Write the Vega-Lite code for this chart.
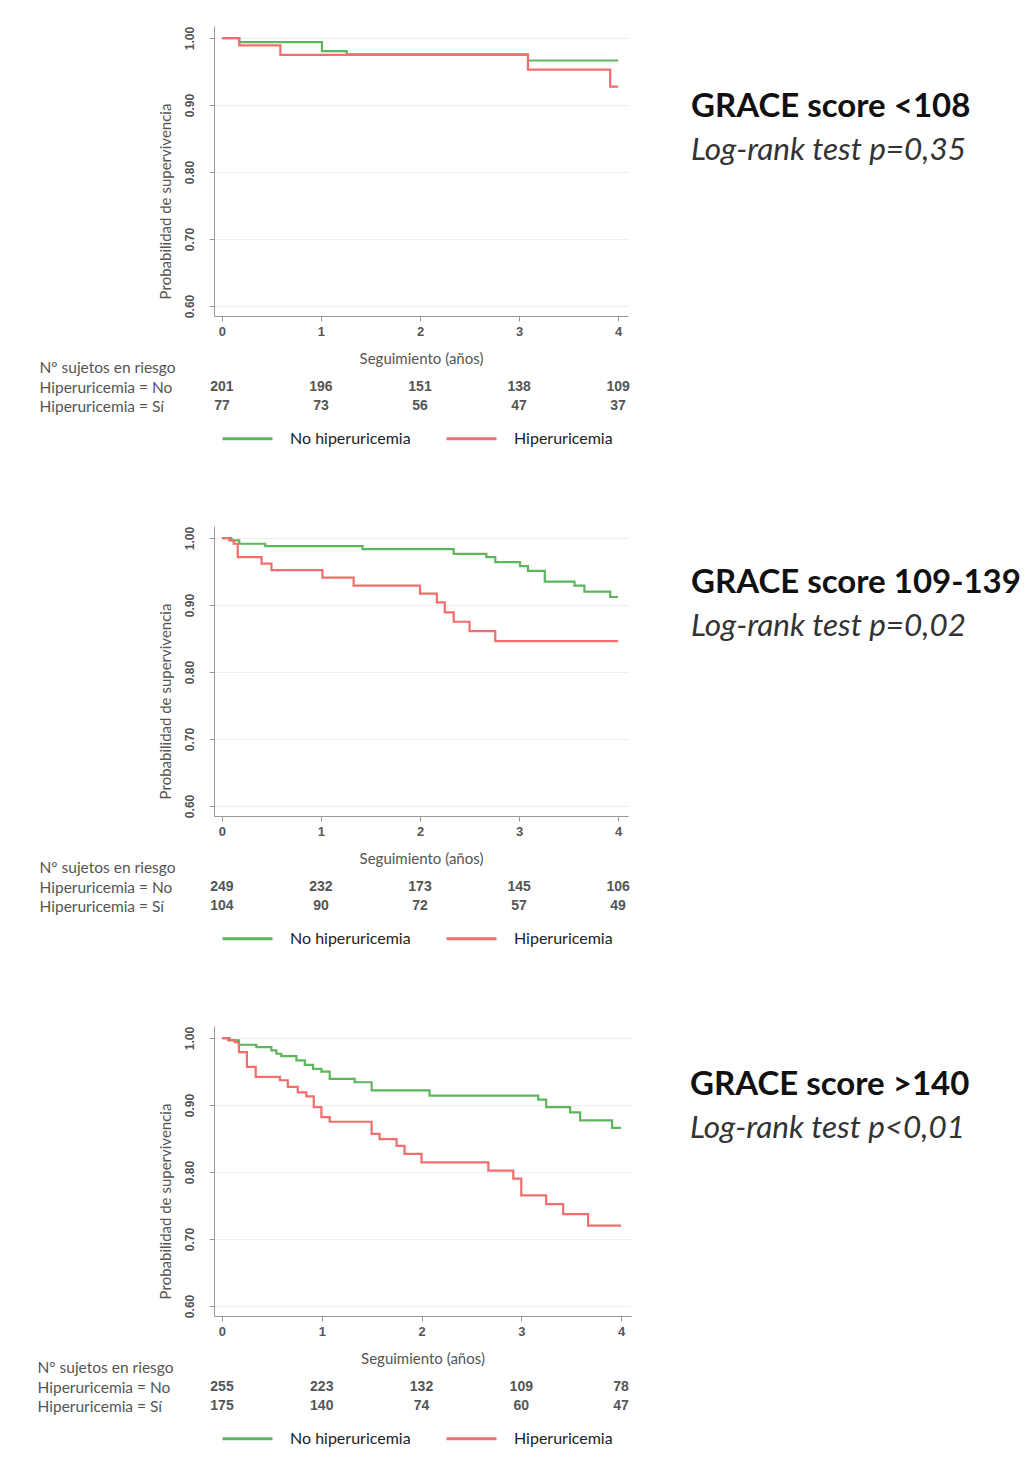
{
  "$schema": "https://vega.github.io/schema/vega-lite/v6.json",
  "background": "white",
  "padding": {"left": 37, "top": 26, "right": 0, "bottom": 0},
  "config": {
    "view": {"stroke": null},
    "font": "Lato",
    "axis": {"domainColor": "#999", "tickColor": "#999", "gridColor": "#eeeeee"},
    "legend": {"orient": "bottom", "direction": "horizontal", "title": null, "symbolType": "stroke", "symbolSize": 2500, "symbolStrokeWidth": 3, "symbolOpacity": 1, "labelFont": "Lato", "labelFontSize": 16, "labelColor": "#222", "labelOffset": 16, "columnPadding": 29, "offset": -11, "padding": 7}
  },
  "datasets": {
    "km": [
      {"p": 1, "g": "No hiperuricemia", "t": 0, "s": 1},
      {"p": 1, "g": "No hiperuricemia", "t": 0.175, "s": 0.994},
      {"p": 1, "g": "No hiperuricemia", "t": 1.01, "s": 0.9805},
      {"p": 1, "g": "No hiperuricemia", "t": 1.26, "s": 0.9755},
      {"p": 1, "g": "No hiperuricemia", "t": 3.09, "s": 0.9665},
      {"p": 1, "g": "No hiperuricemia", "t": 4, "s": 0.9665},
      {"p": 1, "g": "Hiperuricemia", "t": 0, "s": 1},
      {"p": 1, "g": "Hiperuricemia", "t": 0.175, "s": 0.989},
      {"p": 1, "g": "Hiperuricemia", "t": 0.59, "s": 0.975},
      {"p": 1, "g": "Hiperuricemia", "t": 3.09, "s": 0.953},
      {"p": 1, "g": "Hiperuricemia", "t": 3.92, "s": 0.9275},
      {"p": 1, "g": "Hiperuricemia", "t": 4, "s": 0.9275},
      {"p": 2, "g": "No hiperuricemia", "t": 0, "s": 1},
      {"p": 2, "g": "No hiperuricemia", "t": 0.094, "s": 0.9965},
      {"p": 2, "g": "No hiperuricemia", "t": 0.175, "s": 0.9915},
      {"p": 2, "g": "No hiperuricemia", "t": 0.437, "s": 0.988},
      {"p": 2, "g": "No hiperuricemia", "t": 1.42, "s": 0.9835},
      {"p": 2, "g": "No hiperuricemia", "t": 2.34, "s": 0.9765},
      {"p": 2, "g": "No hiperuricemia", "t": 2.67, "s": 0.9715},
      {"p": 2, "g": "No hiperuricemia", "t": 2.76, "s": 0.964},
      {"p": 2, "g": "No hiperuricemia", "t": 3.01, "s": 0.958},
      {"p": 2, "g": "No hiperuricemia", "t": 3.09, "s": 0.951},
      {"p": 2, "g": "No hiperuricemia", "t": 3.26, "s": 0.935},
      {"p": 2, "g": "No hiperuricemia", "t": 3.56, "s": 0.929},
      {"p": 2, "g": "No hiperuricemia", "t": 3.66, "s": 0.92},
      {"p": 2, "g": "No hiperuricemia", "t": 3.92, "s": 0.912},
      {"p": 2, "g": "No hiperuricemia", "t": 4, "s": 0.912},
      {"p": 2, "g": "Hiperuricemia", "t": 0, "s": 1},
      {"p": 2, "g": "Hiperuricemia", "t": 0.074, "s": 0.9965},
      {"p": 2, "g": "Hiperuricemia", "t": 0.118, "s": 0.9915},
      {"p": 2, "g": "Hiperuricemia", "t": 0.16, "s": 0.9716},
      {"p": 2, "g": "Hiperuricemia", "t": 0.4, "s": 0.9617},
      {"p": 2, "g": "Hiperuricemia", "t": 0.5, "s": 0.952},
      {"p": 2, "g": "Hiperuricemia", "t": 1.015, "s": 0.941},
      {"p": 2, "g": "Hiperuricemia", "t": 1.33, "s": 0.929},
      {"p": 2, "g": "Hiperuricemia", "t": 2.0, "s": 0.917},
      {"p": 2, "g": "Hiperuricemia", "t": 2.17, "s": 0.904},
      {"p": 2, "g": "Hiperuricemia", "t": 2.25, "s": 0.889},
      {"p": 2, "g": "Hiperuricemia", "t": 2.34, "s": 0.875},
      {"p": 2, "g": "Hiperuricemia", "t": 2.5, "s": 0.861},
      {"p": 2, "g": "Hiperuricemia", "t": 2.76, "s": 0.846},
      {"p": 2, "g": "Hiperuricemia", "t": 4, "s": 0.846},
      {"p": 3, "g": "No hiperuricemia", "t": 0, "s": 1},
      {"p": 3, "g": "No hiperuricemia", "t": 0.077, "s": 0.9965},
      {"p": 3, "g": "No hiperuricemia", "t": 0.17, "s": 0.99},
      {"p": 3, "g": "No hiperuricemia", "t": 0.344, "s": 0.9865},
      {"p": 3, "g": "No hiperuricemia", "t": 0.495, "s": 0.9815},
      {"p": 3, "g": "No hiperuricemia", "t": 0.545, "s": 0.9766},
      {"p": 3, "g": "No hiperuricemia", "t": 0.595, "s": 0.973},
      {"p": 3, "g": "No hiperuricemia", "t": 0.746, "s": 0.9666},
      {"p": 3, "g": "No hiperuricemia", "t": 0.83, "s": 0.96},
      {"p": 3, "g": "No hiperuricemia", "t": 0.913, "s": 0.954},
      {"p": 3, "g": "No hiperuricemia", "t": 0.997, "s": 0.95},
      {"p": 3, "g": "No hiperuricemia", "t": 1.08, "s": 0.939},
      {"p": 3, "g": "No hiperuricemia", "t": 1.33, "s": 0.934},
      {"p": 3, "g": "No hiperuricemia", "t": 1.5, "s": 0.922},
      {"p": 3, "g": "No hiperuricemia", "t": 2.08, "s": 0.914},
      {"p": 3, "g": "No hiperuricemia", "t": 3.17, "s": 0.908},
      {"p": 3, "g": "No hiperuricemia", "t": 3.25, "s": 0.897},
      {"p": 3, "g": "No hiperuricemia", "t": 3.49, "s": 0.889},
      {"p": 3, "g": "No hiperuricemia", "t": 3.59, "s": 0.877},
      {"p": 3, "g": "No hiperuricemia", "t": 3.91, "s": 0.866},
      {"p": 3, "g": "No hiperuricemia", "t": 4, "s": 0.866},
      {"p": 3, "g": "Hiperuricemia", "t": 0, "s": 1},
      {"p": 3, "g": "Hiperuricemia", "t": 0.06, "s": 0.997},
      {"p": 3, "g": "Hiperuricemia", "t": 0.127, "s": 0.994},
      {"p": 3, "g": "Hiperuricemia", "t": 0.17, "s": 0.979},
      {"p": 3, "g": "Hiperuricemia", "t": 0.25, "s": 0.957},
      {"p": 3, "g": "Hiperuricemia", "t": 0.338, "s": 0.942},
      {"p": 3, "g": "Hiperuricemia", "t": 0.58, "s": 0.937},
      {"p": 3, "g": "Hiperuricemia", "t": 0.66, "s": 0.927},
      {"p": 3, "g": "Hiperuricemia", "t": 0.76, "s": 0.919},
      {"p": 3, "g": "Hiperuricemia", "t": 0.846, "s": 0.913},
      {"p": 3, "g": "Hiperuricemia", "t": 0.92, "s": 0.897},
      {"p": 3, "g": "Hiperuricemia", "t": 0.997, "s": 0.882},
      {"p": 3, "g": "Hiperuricemia", "t": 1.08, "s": 0.875},
      {"p": 3, "g": "Hiperuricemia", "t": 1.5, "s": 0.857},
      {"p": 3, "g": "Hiperuricemia", "t": 1.58, "s": 0.849},
      {"p": 3, "g": "Hiperuricemia", "t": 1.75, "s": 0.839},
      {"p": 3, "g": "Hiperuricemia", "t": 1.83, "s": 0.827},
      {"p": 3, "g": "Hiperuricemia", "t": 2.0, "s": 0.8145},
      {"p": 3, "g": "Hiperuricemia", "t": 2.67, "s": 0.802},
      {"p": 3, "g": "Hiperuricemia", "t": 2.92, "s": 0.79},
      {"p": 3, "g": "Hiperuricemia", "t": 3.0, "s": 0.765},
      {"p": 3, "g": "Hiperuricemia", "t": 3.25, "s": 0.752},
      {"p": 3, "g": "Hiperuricemia", "t": 3.42, "s": 0.737},
      {"p": 3, "g": "Hiperuricemia", "t": 3.67, "s": 0.72},
      {"p": 3, "g": "Hiperuricemia", "t": 4, "s": 0.72}
    ],
    "risk": [
      {"p": 1, "t": 0, "fila": "Hiperuricemia = No", "g": "No hiperuricemia", "n": 201},
      {"p": 1, "t": 1, "fila": "Hiperuricemia = No", "g": "No hiperuricemia", "n": 196},
      {"p": 1, "t": 2, "fila": "Hiperuricemia = No", "g": "No hiperuricemia", "n": 151},
      {"p": 1, "t": 3, "fila": "Hiperuricemia = No", "g": "No hiperuricemia", "n": 138},
      {"p": 1, "t": 4, "fila": "Hiperuricemia = No", "g": "No hiperuricemia", "n": 109},
      {"p": 1, "t": 0, "fila": "Hiperuricemia = Sí", "g": "Hiperuricemia", "n": 77},
      {"p": 1, "t": 1, "fila": "Hiperuricemia = Sí", "g": "Hiperuricemia", "n": 73},
      {"p": 1, "t": 2, "fila": "Hiperuricemia = Sí", "g": "Hiperuricemia", "n": 56},
      {"p": 1, "t": 3, "fila": "Hiperuricemia = Sí", "g": "Hiperuricemia", "n": 47},
      {"p": 1, "t": 4, "fila": "Hiperuricemia = Sí", "g": "Hiperuricemia", "n": 37},
      {"p": 2, "t": 0, "fila": "Hiperuricemia = No", "g": "No hiperuricemia", "n": 249},
      {"p": 2, "t": 1, "fila": "Hiperuricemia = No", "g": "No hiperuricemia", "n": 232},
      {"p": 2, "t": 2, "fila": "Hiperuricemia = No", "g": "No hiperuricemia", "n": 173},
      {"p": 2, "t": 3, "fila": "Hiperuricemia = No", "g": "No hiperuricemia", "n": 145},
      {"p": 2, "t": 4, "fila": "Hiperuricemia = No", "g": "No hiperuricemia", "n": 106},
      {"p": 2, "t": 0, "fila": "Hiperuricemia = Sí", "g": "Hiperuricemia", "n": 104},
      {"p": 2, "t": 1, "fila": "Hiperuricemia = Sí", "g": "Hiperuricemia", "n": 90},
      {"p": 2, "t": 2, "fila": "Hiperuricemia = Sí", "g": "Hiperuricemia", "n": 72},
      {"p": 2, "t": 3, "fila": "Hiperuricemia = Sí", "g": "Hiperuricemia", "n": 57},
      {"p": 2, "t": 4, "fila": "Hiperuricemia = Sí", "g": "Hiperuricemia", "n": 49},
      {"p": 3, "t": 0, "fila": "Hiperuricemia = No", "g": "No hiperuricemia", "n": 255},
      {"p": 3, "t": 1, "fila": "Hiperuricemia = No", "g": "No hiperuricemia", "n": 223},
      {"p": 3, "t": 2, "fila": "Hiperuricemia = No", "g": "No hiperuricemia", "n": 132},
      {"p": 3, "t": 3, "fila": "Hiperuricemia = No", "g": "No hiperuricemia", "n": 109},
      {"p": 3, "t": 4, "fila": "Hiperuricemia = No", "g": "No hiperuricemia", "n": 78},
      {"p": 3, "t": 0, "fila": "Hiperuricemia = Sí", "g": "Hiperuricemia", "n": 175},
      {"p": 3, "t": 1, "fila": "Hiperuricemia = Sí", "g": "Hiperuricemia", "n": 140},
      {"p": 3, "t": 2, "fila": "Hiperuricemia = Sí", "g": "Hiperuricemia", "n": 74},
      {"p": 3, "t": 3, "fila": "Hiperuricemia = Sí", "g": "Hiperuricemia", "n": 60},
      {"p": 3, "t": 4, "fila": "Hiperuricemia = Sí", "g": "Hiperuricemia", "n": 47}
    ]
  },
  "spacing": 72,
  "resolve": {"scale": {"color": "independent"}, "legend": {"color": "independent"}},
  "vconcat": [
    {
      "spacing": 61,
      "resolve": {"scale": {"color": "independent"}, "legend": {"color": "independent"}},
      "hconcat": [
        {
          "spacing": 13,
          "resolve": {"scale": {"color": "independent"}, "legend": {"color": "independent"}},
          "vconcat": [
            {
              "width": 414, "height": 290,
              "data": {"name": "km"},
              "transform": [{"filter": "datum.p == 1"}],
              "encoding": {
                "x": {"field": "t", "type": "quantitative", "scale": {"domain": [-0.08, 4.1], "nice": false, "zero": false},
                  "axis": {"values": [0, 1, 2, 3, 4], "format": "d", "title": null, "grid": false, "tickSize": 5, "labelFont": "Liberation Sans", "labelFontSize": 13, "labelFontWeight": "bold", "labelColor": "#555", "labelPadding": 4, "labelFlush": false}},
                "y": {"field": "s", "type": "quantitative", "scale": {"domain": [0.585, 1.018], "nice": false, "zero": false},
                  "axis": {"values": [0.6, 0.7, 0.8, 0.9, 1.0], "format": ".2f", "labelAngle": 270, "grid": true, "tickSize": 5, "labelFont": "Liberation Sans", "labelFontSize": 12, "labelFontWeight": "bold", "labelColor": "#555", "labelPadding": 13, "title": "Probabilidad de supervivencia", "titleFont": "Lato", "titleFontSize": 15, "titleFontWeight": "normal", "titleColor": "#555", "titlePadding": 10, "titleY": 175}},
                "color": {"field": "g", "type": "nominal", "scale": {"domain": ["No hiperuricemia", "Hiperuricemia"], "range": ["#5db55d", "#f26d6d"]}, "legend": null}
              },
              "layer": [
                {"transform": [{"filter": "datum.g == 'No hiperuricemia'"}], "mark": {"type": "line", "interpolate": "step-after", "strokeWidth": 2.2}},
                {"transform": [{"filter": "datum.g == 'Hiperuricemia'"}], "mark": {"type": "line", "interpolate": "step-after", "strokeWidth": 2.2}}
              ]
            },
            {
              "width": 414, "height": 58,
              "data": {"name": "risk"},
              "transform": [{"filter": "datum.p == 1"}],
              "encoding": {
                "x": {"field": "t", "type": "quantitative", "scale": {"domain": [-0.08, 4.1], "nice": false, "zero": false},
                  "axis": {"orient": "top", "title": "Seguimiento (años)", "labels": false, "ticks": false, "domain": false, "grid": false, "titleFont": "Lato", "titleFontSize": 15, "titleFontWeight": "normal", "titleColor": "#555", "titlePadding": -8}},
                "y": {"field": "fila", "type": "nominal", "scale": {"domain": ["Nº sujetos en riesgo", "Hiperuricemia = No", "Hiperuricemia = Sí"]},
                  "axis": {"title": null, "ticks": false, "tickSize": 0, "domain": false, "labelAlign": "left", "labelPadding": 175, "labelFont": "Lato", "labelFontSize": 15.5, "labelColor": "#555"}}
              },
              "layer": [
                {
                  "mark": {"type": "text", "font": "Liberation Sans", "fontSize": 14, "fontWeight": "bold", "fill": "#555"},
                  "encoding": {"text": {"field": "n", "type": "quantitative"}}
                },
                {
                  "mark": {"type": "point", "opacity": 0},
                  "encoding": {
                    "color": {"field": "g", "type": "nominal", "scale": {"domain": ["No hiperuricemia", "Hiperuricemia"], "range": ["#5db55d", "#f26d6d"]}, "legend": {}}
                  }
                }
              ]
            }
          ]
        },
        {
          "width": 330, "height": 60,
          "data": {"values": [{}]},
          "mark": {"type": "text"},
          "encoding": {"text": {"value": ""}},
          "title": {"text": "GRACE score <108", "subtitle": "Log-rank test p=0,35", "orient": "bottom", "anchor": "start", "frame": "group", "offset": 5, "font": "Lato", "fontSize": 33, "fontWeight": "bold", "color": "#111", "subtitleFont": "Lato", "subtitleFontSize": 31.5, "subtitleFontStyle": "italic", "subtitleColor": "#333", "subtitlePadding": 11}
        }
      ]
    },
    {
      "spacing": 61,
      "resolve": {"scale": {"color": "independent"}, "legend": {"color": "independent"}},
      "hconcat": [
        {
          "spacing": 13,
          "resolve": {"scale": {"color": "independent"}, "legend": {"color": "independent"}},
          "vconcat": [
            {
              "width": 414, "height": 290,
              "data": {"name": "km"},
              "transform": [{"filter": "datum.p == 2"}],
              "encoding": {
                "x": {"field": "t", "type": "quantitative", "scale": {"domain": [-0.08, 4.1], "nice": false, "zero": false},
                  "axis": {"values": [0, 1, 2, 3, 4], "format": "d", "title": null, "grid": false, "tickSize": 5, "labelFont": "Liberation Sans", "labelFontSize": 13, "labelFontWeight": "bold", "labelColor": "#555", "labelPadding": 4, "labelFlush": false}},
                "y": {"field": "s", "type": "quantitative", "scale": {"domain": [0.585, 1.018], "nice": false, "zero": false},
                  "axis": {"values": [0.6, 0.7, 0.8, 0.9, 1.0], "format": ".2f", "labelAngle": 270, "grid": true, "tickSize": 5, "labelFont": "Liberation Sans", "labelFontSize": 12, "labelFontWeight": "bold", "labelColor": "#555", "labelPadding": 13, "title": "Probabilidad de supervivencia", "titleFont": "Lato", "titleFontSize": 15, "titleFontWeight": "normal", "titleColor": "#555", "titlePadding": 10, "titleY": 175}},
                "color": {"field": "g", "type": "nominal", "scale": {"domain": ["No hiperuricemia", "Hiperuricemia"], "range": ["#5db55d", "#f26d6d"]}, "legend": null}
              },
              "layer": [
                {"transform": [{"filter": "datum.g == 'No hiperuricemia'"}], "mark": {"type": "line", "interpolate": "step-after", "strokeWidth": 2.2}},
                {"transform": [{"filter": "datum.g == 'Hiperuricemia'"}], "mark": {"type": "line", "interpolate": "step-after", "strokeWidth": 2.2}}
              ]
            },
            {
              "width": 414, "height": 58,
              "data": {"name": "risk"},
              "transform": [{"filter": "datum.p == 2"}],
              "encoding": {
                "x": {"field": "t", "type": "quantitative", "scale": {"domain": [-0.08, 4.1], "nice": false, "zero": false},
                  "axis": {"orient": "top", "title": "Seguimiento (años)", "labels": false, "ticks": false, "domain": false, "grid": false, "titleFont": "Lato", "titleFontSize": 15, "titleFontWeight": "normal", "titleColor": "#555", "titlePadding": -8}},
                "y": {"field": "fila", "type": "nominal", "scale": {"domain": ["Nº sujetos en riesgo", "Hiperuricemia = No", "Hiperuricemia = Sí"]},
                  "axis": {"title": null, "ticks": false, "tickSize": 0, "domain": false, "labelAlign": "left", "labelPadding": 175, "labelFont": "Lato", "labelFontSize": 15.5, "labelColor": "#555"}}
              },
              "layer": [
                {
                  "mark": {"type": "text", "font": "Liberation Sans", "fontSize": 14, "fontWeight": "bold", "fill": "#555"},
                  "encoding": {"text": {"field": "n", "type": "quantitative"}}
                },
                {
                  "mark": {"type": "point", "opacity": 0},
                  "encoding": {
                    "color": {"field": "g", "type": "nominal", "scale": {"domain": ["No hiperuricemia", "Hiperuricemia"], "range": ["#5db55d", "#f26d6d"]}, "legend": {}}
                  }
                }
              ]
            }
          ]
        },
        {
          "width": 330, "height": 36,
          "data": {"values": [{}]},
          "mark": {"type": "text"},
          "encoding": {"text": {"value": ""}},
          "title": {"text": "GRACE score 109-139", "subtitle": "Log-rank test p=0,02", "orient": "bottom", "anchor": "start", "frame": "group", "offset": 5, "font": "Lato", "fontSize": 33, "fontWeight": "bold", "color": "#111", "subtitleFont": "Lato", "subtitleFontSize": 31.5, "subtitleFontStyle": "italic", "subtitleColor": "#333", "subtitlePadding": 11}
        }
      ]
    },
    {
      "spacing": 59,
      "resolve": {"scale": {"color": "independent"}, "legend": {"color": "independent"}},
      "hconcat": [
        {
          "spacing": 13,
          "resolve": {"scale": {"color": "independent"}, "legend": {"color": "independent"}},
          "vconcat": [
            {
              "width": 417, "height": 290,
              "data": {"name": "km"},
              "transform": [{"filter": "datum.p == 3"}],
              "encoding": {
                "x": {"field": "t", "type": "quantitative", "scale": {"domain": [-0.08, 4.1], "nice": false, "zero": false},
                  "axis": {"values": [0, 1, 2, 3, 4], "format": "d", "title": null, "grid": false, "tickSize": 5, "labelFont": "Liberation Sans", "labelFontSize": 13, "labelFontWeight": "bold", "labelColor": "#555", "labelPadding": 4, "labelFlush": false}},
                "y": {"field": "s", "type": "quantitative", "scale": {"domain": [0.585, 1.018], "nice": false, "zero": false},
                  "axis": {"values": [0.6, 0.7, 0.8, 0.9, 1.0], "format": ".2f", "labelAngle": 270, "grid": true, "tickSize": 5, "labelFont": "Liberation Sans", "labelFontSize": 12, "labelFontWeight": "bold", "labelColor": "#555", "labelPadding": 13, "title": "Probabilidad de supervivencia", "titleFont": "Lato", "titleFontSize": 15, "titleFontWeight": "normal", "titleColor": "#555", "titlePadding": 10, "titleY": 175}},
                "color": {"field": "g", "type": "nominal", "scale": {"domain": ["No hiperuricemia", "Hiperuricemia"], "range": ["#5db55d", "#f26d6d"]}, "legend": null}
              },
              "layer": [
                {"transform": [{"filter": "datum.g == 'No hiperuricemia'"}], "mark": {"type": "line", "interpolate": "step-after", "strokeWidth": 2.2}},
                {"transform": [{"filter": "datum.g == 'Hiperuricemia'"}], "mark": {"type": "line", "interpolate": "step-after", "strokeWidth": 2.2}}
              ]
            },
            {
              "width": 417, "height": 58,
              "data": {"name": "risk"},
              "transform": [{"filter": "datum.p == 3"}],
              "encoding": {
                "x": {"field": "t", "type": "quantitative", "scale": {"domain": [-0.08, 4.1], "nice": false, "zero": false},
                  "axis": {"orient": "top", "title": "Seguimiento (años)", "labels": false, "ticks": false, "domain": false, "grid": false, "titleFont": "Lato", "titleFontSize": 15, "titleFontWeight": "normal", "titleColor": "#555", "titlePadding": -8}},
                "y": {"field": "fila", "type": "nominal", "scale": {"domain": ["Nº sujetos en riesgo", "Hiperuricemia = No", "Hiperuricemia = Sí"]},
                  "axis": {"title": null, "ticks": false, "tickSize": 0, "domain": false, "labelAlign": "left", "labelPadding": 177, "labelFont": "Lato", "labelFontSize": 15.5, "labelColor": "#555"}}
              },
              "layer": [
                {
                  "mark": {"type": "text", "font": "Liberation Sans", "fontSize": 14, "fontWeight": "bold", "fill": "#555"},
                  "encoding": {"text": {"field": "n", "type": "quantitative"}}
                },
                {
                  "mark": {"type": "point", "opacity": 0},
                  "encoding": {
                    "color": {"field": "g", "type": "nominal", "scale": {"domain": ["No hiperuricemia", "Hiperuricemia"], "range": ["#5db55d", "#f26d6d"]}, "legend": {}}
                  }
                }
              ]
            }
          ]
        },
        {
          "width": 330, "height": 38,
          "data": {"values": [{}]},
          "mark": {"type": "text"},
          "encoding": {"text": {"value": ""}},
          "title": {"text": "GRACE score >140", "subtitle": "Log-rank test p<0,01", "orient": "bottom", "anchor": "start", "frame": "group", "offset": 5, "font": "Lato", "fontSize": 33, "fontWeight": "bold", "color": "#111", "subtitleFont": "Lato", "subtitleFontSize": 31.5, "subtitleFontStyle": "italic", "subtitleColor": "#333", "subtitlePadding": 11}
        }
      ]
    }
  ]
}
